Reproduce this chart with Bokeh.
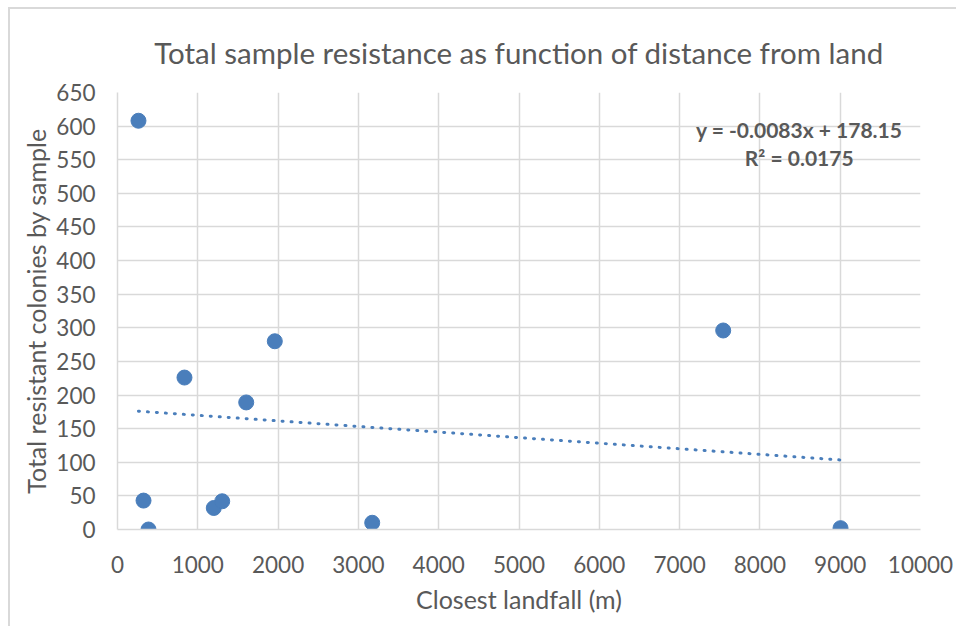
from bokeh.plotting import figure
from bokeh.models import Range1d, FixedTicker, Label, ColumnDataSource
from bokeh.embed import file_html
from bokeh.resources import INLINE

# data
landfall_m = [261, 324, 386, 834, 1199, 1304, 1603, 1959, 3172, 7543, 9004]
resistant_colonies = [608, 43, 0, 226, 32, 42, 189, 280, 10, 296, 2]

trend_slope = -0.0083
trend_intercept = 178.15
r_squared = 0.0175

x_ticks = [0, 1000, 2000, 3000, 4000, 5000, 6000, 7000, 8000, 9000, 10000]
y_ticks = [0, 50, 100, 150, 200, 250, 300, 350, 400, 450, 500, 550, 600, 650]

title_text = "Total sample resistance as function of distance from land"
x_title = "Closest landfall (m)"
y_title = "Total resistant colonies by sample"

FONT = "Lato"
GREY = "#595959"
GRID = "#d9d9d9"
BLUE = "#4a7ebb"

p = figure(width=948, height=619, output_backend="svg", toolbar_location=None,
           x_range=Range1d(0, 10000), y_range=Range1d(0, 650),
           min_border_left=107, min_border_right=38, min_border_top=83, min_border_bottom=99,
           styles={"margin-left": "8px", "margin-top": "7px",
                   "border-left": "2px solid #d9d9d9", "border-top": "2px solid #d9d9d9"})

p.title.text = title_text
p.title.align = "center"
p.title.text_font = FONT
p.title.text_font_size = "29.5px"
p.title.text_font_style = "normal"
p.title.text_color = GREY
p.title.standoff = 46

p.outline_line_color = None
p.background_fill_color = "white"
p.border_fill_color = "white"

for ax in (p.xaxis[0], p.yaxis[0]):
    ax.axis_line_color = GRID
    ax.axis_line_width = 1.5
    ax.major_tick_line_color = None
    ax.minor_tick_line_color = None
    ax.major_label_text_font = FONT
    ax.major_label_text_font_size = "22.5px"
    ax.major_label_text_color = GREY
    ax.axis_label_text_font = FONT
    ax.axis_label_text_font_size = "25px"
    ax.axis_label_text_font_style = "normal"
    ax.axis_label_text_color = GREY

p.xaxis.ticker = FixedTicker(ticks=x_ticks)
p.yaxis.ticker = FixedTicker(ticks=y_ticks)
p.xaxis.axis_label = x_title
p.yaxis.axis_label = y_title
p.xaxis.major_label_standoff = 20
p.yaxis.major_label_standoff = 16
p.xaxis.axis_label_standoff = 8
p.yaxis.axis_label_standoff = 2

for g in (p.xgrid[0], p.ygrid[0]):
    g.grid_line_color = GRID
    g.grid_line_width = 1.5
p.xgrid.ticker = FixedTicker(ticks=x_ticks)
p.ygrid.ticker = FixedTicker(ticks=y_ticks)

# trendline from equation over data x-range
tx = [min(landfall_m), max(landfall_m)]
ty = [trend_slope * v + trend_intercept for v in tx]
p.line(tx, ty, line_color=BLUE, line_width=3, line_dash="1 8", line_cap="round")

src = ColumnDataSource(dict(x=landfall_m, y=resistant_colonies))
p.scatter("x", "y", source=src, size=15, fill_color=BLUE, line_color=BLUE)

eq1 = "y = %.4fx + %.2f" % (trend_slope, trend_intercept)
eq2 = "R\u00b2 = %.4f" % r_squared
for txt, yy in ((eq1, 595), (eq2, 553)):
    p.add_layout(Label(x=8490, y=yy, text=txt, text_align="center", text_baseline="middle",
                       text_font=FONT, text_font_size="21px", text_font_style="bold",
                       text_color=GREY))

open("out.html", "w").write(file_html(p, INLINE))
